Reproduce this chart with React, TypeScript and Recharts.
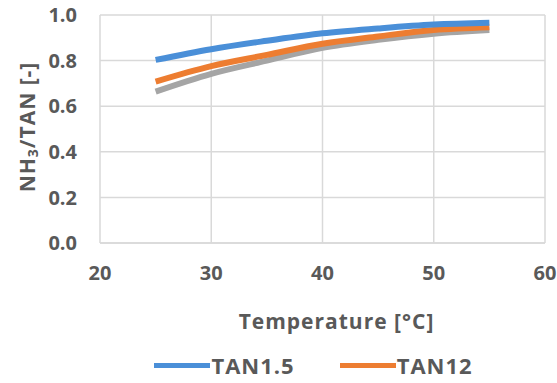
import React from "react";
import {
  LineChart,
  Line,
  XAxis,
  YAxis,
  CartesianGrid,
  Legend,
  Label,
} from "recharts";

// temperatures (°C) and NH3/TAN fractions
const temperatures = [25, 30, 35, 40, 45, 50, 55];
const tan15 = [0.803, 0.85, 0.887, 0.92, 0.941, 0.958, 0.966];
const tan12 = [0.708, 0.776, 0.825, 0.874, 0.906, 0.934, 0.946];
const tanGray = [0.664, 0.742, 0.8, 0.856, 0.891, 0.918, 0.934];

const xTicks = [20, 30, 40, 50, 60];
const yTicks = [0, 0.2, 0.4, 0.6, 0.8, 1.0];

const legendItems = [
  { name: "TAN1.5", color: "#4a8fd8" },
  { name: "TAN12", color: "#ed7d31" },
];

const data = temperatures.map((t, i) => ({
  t,
  tan15: tan15[i],
  tan12: tan12[i],
  gray: tanGray[i],
}));

const TEXT = "#595959";
const GRID = "#d9d9d9";
const FONT = "'Open Sans', sans-serif";

function YTitle(props: any) {
  const vb = props.viewBox;
  const cx = vb.x + 27;
  const cy = vb.y + vb.height / 2 - 2;
  return (
    <text
      x={cx}
      y={cy}
      transform={`rotate(-90, ${cx}, ${cy})`}
      textAnchor="middle"
      dominantBaseline="central"
      fill={TEXT}
      fontFamily={FONT}
      fontWeight="bold"
      fontSize={21}
      letterSpacing={1}
    >
      NH
      <tspan dy={5} fontSize={14}>
        3
      </tspan>
      <tspan dy={-5}>/TAN [-]</tspan>
    </text>
  );
}

function LegendBox() {
  return (
    <div
      style={{
        height: 34,
        display: "flex",
        alignItems: "center",
        justifyContent: "center",
        paddingLeft: 70,
        gap: 45,
        fontFamily: FONT,
        fontWeight: "bold",
        fontSize: 22,
        letterSpacing: 1,
        color: TEXT,
      }}
    >
      {legendItems.map((it) => (
        <div key={it.name} style={{ display: "flex", alignItems: "center" }}>
          <div
            style={{
              width: 56,
              height: 5,
              background: it.color,
              marginRight: 1,
            }}
          />
          <span>{it.name}</span>
        </div>
      ))}
    </div>
  );
}

export default function App() {
  return (
    <div style={{ position: "absolute", left: 0, top: 0 }}>
      <LineChart
        width={557}
        height={383}
        data={data}
        margin={{ top: 15, right: 12, left: 0, bottom: 1 }}
      >
        <CartesianGrid stroke={GRID} strokeWidth={1.5} />
        <XAxis
          dataKey="t"
          type="number"
          domain={[20, 60]}
          ticks={xTicks}
          height={105}
          tickSize={0}
          tickMargin={23}
          axisLine={{ stroke: GRID, strokeWidth: 1.5 }}
          tick={{ fill: TEXT, fontSize: 20, fontWeight: "bold", fontFamily: FONT }}
        >
          <Label
            value="Temperature [°C]"
            position="insideBottom"
            offset={19}
            dx={14}
            fill={TEXT}
            fontSize={21}
            fontWeight="bold"
            fontFamily={FONT}
            letterSpacing={1}
          />
        </XAxis>
        <YAxis
          type="number"
          domain={[0, 1]}
          ticks={yTicks}
          width={100}
          tickSize={0}
          tickMargin={23}
          axisLine={false}
          tickFormatter={(v: number) => v.toFixed(1)}
          tick={{ fill: TEXT, fontSize: 20, fontWeight: "bold", fontFamily: FONT }}
        >
          <Label content={YTitle} />
        </YAxis>
        <Legend verticalAlign="bottom" content={LegendBox} wrapperStyle={{ left: 0, width: 557 }} />
        <Line
          dataKey="gray"
          type="monotone"
          stroke="#a5a5a5"
          strokeWidth={6}
          dot={false}
          legendType="none"
          isAnimationActive={false}
        />
        <Line
          dataKey="tan12"
          type="monotone"
          stroke="#ed7d31"
          strokeWidth={6}
          dot={false}
          isAnimationActive={false}
        />
        <Line
          dataKey="tan15"
          type="monotone"
          stroke="#4a8fd8"
          strokeWidth={6}
          dot={false}
          isAnimationActive={false}
        />
      </LineChart>
    </div>
  );
}
